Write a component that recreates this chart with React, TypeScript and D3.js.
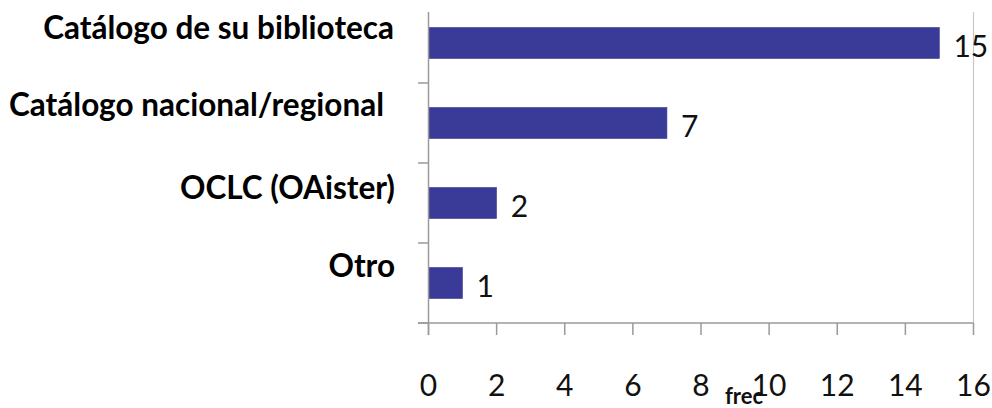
import React from "react";
import * as d3 from "d3";

const categories = [
  "Catálogo de su biblioteca",
  "Catálogo nacional/regional",
  "OCLC (OAister)",
  "Otro",
];
const values = [15, 7, 2, 1];
const xTicks = [0, 2, 4, 6, 8, 10, 12, 14, 16];
const xAxisTitle = "frec";

// small per-label layout nudges (as in the reference's label placement)
const labelNudgeX = [0, -10, 1, 1];
const labelNudgeY = [0, -3, 0, -2];

const W = 992;
const H = 408;
const BAR = "#3a3a98";
const AXIS = "#9a9a9a";

export default function App() {
  const x = d3.scaleLinear().domain([0, 16]).range([428.5, 973.5]);
  const y = d3
    .scaleBand<string>()
    .domain(categories)
    .range([3, 323])
    .paddingInner(0.61)
    .paddingOuter(0.305);
  const step = y.step();
  const bandTops = categories.map((c) => (y(c) as number) - y.paddingOuter() * step);
  const font = "Lato, 'Open Sans', sans-serif";

  return (
    <svg
      width={W}
      height={H}
      style={{ position: "absolute", left: 0, top: 0, background: "#fff" }}
      fontFamily={font}
    >
      {/* right border of plot area */}
      <line x1={x(16)} x2={x(16)} y1={12} y2={323} stroke="#c8c8c8" strokeWidth={1.2} />
      {/* bars */}
      {categories.map((c, i) => (
        <rect
          key={c}
          x={x(0)}
          y={y(c)}
          width={x(values[i]) - x(0)}
          height={y.bandwidth()}
          fill={BAR}
          stroke="#4a4a90"
          strokeWidth={0.6}
        />
      ))}
      {/* value labels */}
      {categories.map((c, i) => (
        <text
          key={"v" + c}
          x={x(values[i]) + 14}
          y={(y(c) as number) + y.bandwidth() / 2 + 3}
          dy="0.36em"
          fontSize={30}
          fill="#111"
        >
          {values[i]}
        </text>
      ))}
      {/* y axis */}
      <line x1={x(0)} x2={x(0)} y1={12} y2={335} stroke={AXIS} strokeWidth={1.5} />
      {bandTops.slice(1).concat([323]).map((t, i) => (
        <line key={"yt" + i} x1={418} x2={x(0)} y1={t} y2={t} stroke={AXIS} strokeWidth={1.5} />
      ))}
      {/* category labels */}
      {categories.map((c, i) => (
        <text
          key={"c" + c}
          x={394 + labelNudgeX[i]}
          y={(y(c) as number) + y.bandwidth() / 2 - 15 + labelNudgeY[i]}
          dy="0.36em"
          textAnchor="end"
          fontSize={31.5}
          fontWeight={700}
          fill="#000"
        >
          {c}
        </text>
      ))}
      {/* x axis */}
      <line x1={418} x2={x(16)} y1={323} y2={323} stroke={AXIS} strokeWidth={1.5} />
      {xTicks.map((t) => (
        <g key={"xt" + t}>
          <line x1={x(t)} x2={x(t)} y1={323} y2={335} stroke={AXIS} strokeWidth={1.5} />
          <text x={x(t)} y={396} textAnchor="middle" fontSize={30} fill="#111">
            {t}
          </text>
        </g>
      ))}
      <text x={744} y={404} textAnchor="middle" fontSize={22} fontWeight={700} fill="#111">
        {xAxisTitle}
      </text>
    </svg>
  );
}
